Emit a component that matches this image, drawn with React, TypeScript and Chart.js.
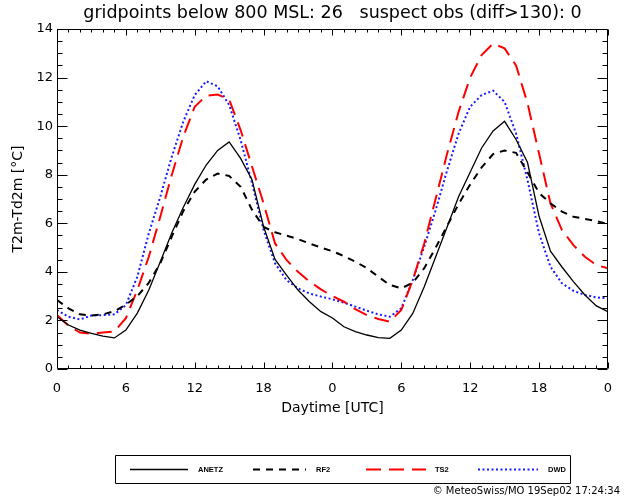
import React, { useEffect, useRef } from 'react';
import { Chart, registerables } from 'chart.js';

Chart.register(...registerables);

const HOURS = [
  0, 1, 2, 3, 4, 5, 6, 7, 8, 9, 10, 11, 12, 13, 14, 15, 16, 17, 18, 19, 20, 21, 22, 23, 24,
  25, 26, 27, 28, 29, 30, 31, 32, 33, 34, 35, 36, 37, 38, 39, 40, 41, 42, 43, 44, 45, 46, 47, 48,
];

const ANETZ = [
  2.15, 1.81, 1.6, 1.47, 1.35, 1.28, 1.6, 2.3, 3.25, 4.42, 5.6, 6.65, 7.6, 8.4, 9.0, 9.35, 8.67, 7.78, 5.86, 4.51, 3.87, 3.25, 2.77, 2.36, 2.1,
  1.74, 1.54, 1.4, 1.29, 1.26, 1.6, 2.29, 3.39, 4.62, 5.86, 7.1, 8.1, 9.1, 9.8, 10.2, 9.45, 8.5, 6.3, 4.85, 4.2, 3.6, 3.05, 2.6, 2.36,
];

const RF2 = [
  2.84, 2.5, 2.25, 2.2, 2.25, 2.38, 2.65, 3.0, 3.55, 4.35, 5.45, 6.5, 7.3, 7.8, 8.05, 7.95, 7.5, 6.55, 5.85, 5.63, 5.49, 5.35, 5.17, 5.0, 4.85,
  4.65, 4.42, 4.15, 3.8, 3.46, 3.32, 3.55, 4.15, 5.0, 5.9, 6.8, 7.6, 8.3, 8.85, 9.0, 8.9, 8.1, 7.25, 6.82, 6.48, 6.27, 6.18, 6.09, 5.97,
];

const TS2 = [
  2.22, 1.78, 1.5, 1.45, 1.5, 1.55, 2.09, 3.25, 4.62, 6.27, 7.99, 9.56, 10.8, 11.25, 11.3, 11.1, 9.84, 8.33, 6.82, 5.17, 4.49, 4.0, 3.6, 3.28, 3.0,
  2.77, 2.46, 2.22, 2.06, 1.95, 2.43, 3.66, 5.17, 7.02, 8.88, 10.6, 12.0, 12.93, 13.4, 13.2, 12.5, 10.94, 8.88, 6.82, 5.72, 5.1, 4.62, 4.28, 4.15,
];

const DWD = [
  2.43, 2.15, 2.04, 2.2, 2.22, 2.25, 2.63, 3.8, 5.59, 7.09, 8.74, 10.18, 11.28, 11.85, 11.64, 10.87, 9.43, 7.64, 5.72, 4.35, 3.66, 3.32, 3.11, 2.98, 2.87,
  2.73, 2.57, 2.4, 2.25, 2.15, 2.5, 3.66, 5.04, 6.55, 8.19, 9.7, 10.8, 11.28, 11.46, 11.0, 9.7, 7.78, 5.59, 4.21, 3.53, 3.22, 3.05, 2.95, 2.91,
];

const SERIES_NAMES = ['ANETZ', 'RF2', 'TS2', 'DWD'];
const X_TICK_LABELS = ['0', '6', '12', '18', '0', '6', '12', '18', '0'];
const TITLE = 'gridpoints below 800 MSL: 26   suspect obs (diff>130): 0';
const X_TITLE = 'Daytime [UTC]';
const Y_TITLE = 'T2m-Td2m [°C]';
const FOOTER = '\u00A9 MeteoSwiss/MO 19Sep02 17:24:34';

const FONT = '"DejaVu Sans", "Liberation Sans", sans-serif';
const LEGEND_FONT = '"Liberation Sans", "DejaVu Sans", sans-serif';

function toPoints(values: number[]) {
  return HOURS.map((h, i) => ({ x: h, y: values[i] }));
}

const decorations = {
  id: 'decorations',
  afterDraw(chart: any) {
    const ctx: CanvasRenderingContext2D = chart.ctx;
    const { left, right, top, bottom } = chart.chartArea;
    const xs = chart.scales.x;
    const ys = chart.scales.y;
    const L = Math.round(left) + 0.5;
    const R = Math.round(right) - 0.5;
    const T = Math.round(top) + 0.5;
    const B = Math.round(bottom) - 0.5;
    ctx.save();
    ctx.strokeStyle = '#000';
    ctx.lineWidth = 1;
    ctx.setLineDash([]);
    ctx.beginPath();
    ctx.rect(L, T, R - L, B - T);
    ctx.stroke();

    // inward ticks on x (hourly minor, 6-hourly major)
    ctx.beginPath();
    for (let h = xs.min; h <= xs.max; h += 1) {
      const px = Math.round(xs.getPixelForValue(h)) + 0.5;
      const len = h % 6 === 0 ? 6 : 3;
      ctx.moveTo(px, B);
      ctx.lineTo(px, B - len);
      ctx.moveTo(px, T);
      ctx.lineTo(px, T + len);
    }
    // inward ticks on y (0.5 minor, 2 major)
    for (let v = ys.min; v <= ys.max + 1e-9; v += 0.5) {
      const py = Math.round(ys.getPixelForValue(v)) + 0.5;
      const len = Math.abs(v % 2) < 1e-9 ? 10 : 5;
      ctx.moveTo(L, py);
      ctx.lineTo(L + len, py);
      ctx.moveTo(R, py);
      ctx.lineTo(R - len, py);
    }
    ctx.stroke();

    // title
    ctx.fillStyle = '#000';
    ctx.font = `17.5px ${FONT}`;
    ctx.textAlign = 'center';
    ctx.textBaseline = 'middle';
    ctx.fillText(TITLE, (left + right) / 2, 13);

    // legend box
    const boxL = 115.5, boxR = 570.5, boxT = 455.5, boxB = 483.5;
    ctx.beginPath();
    ctx.rect(boxL, boxT, boxR - boxL, boxB - boxT);
    ctx.stroke();
    const slots = [
      { x0: 130, x1: 188, tx: 198 },
      { x0: 253, x1: 306, tx: 316 },
      { x0: 366, x1: 426, tx: 435 },
      { x0: 478, x1: 538, tx: 548 },
    ];
    const ly = 469;
    chart.data.datasets.forEach((ds: any, i: number) => {
      const s = slots[i];
      ctx.save();
      ctx.strokeStyle = ds.borderColor;
      ctx.lineWidth = ds.borderWidth;
      ctx.setLineDash(ds.borderDash || []);
      ctx.beginPath();
      ctx.moveTo(s.x0, ly + 0.5);
      ctx.lineTo(s.x1, ly + 0.5);
      ctx.stroke();
      ctx.restore();
      ctx.fillStyle = '#000';
      ctx.font = `bold 7.5px ${LEGEND_FONT}`;
      ctx.textAlign = 'left';
      ctx.textBaseline = 'middle';
      ctx.fillText(ds.label, s.tx, ly + 1);
    });

    // footer
    ctx.font = `10px ${FONT}`;
    ctx.textAlign = 'right';
    ctx.textBaseline = 'middle';
    ctx.fillText(FOOTER, 620, 491);
    ctx.restore();
  },
};

export default function App() {
  const ref = useRef<HTMLCanvasElement | null>(null);

  useEffect(() => {
    document.body.style.margin = '0';
    const canvas = ref.current;
    if (!canvas) return;
    const chart = new Chart(canvas, {
      type: 'line',
      data: {
        datasets: [
          {
            label: SERIES_NAMES[0],
            data: toPoints(ANETZ),
            borderColor: '#000000',
            borderWidth: 1.3,
            borderDash: [],
            pointRadius: 0,
            tension: 0,
          },
          {
            label: SERIES_NAMES[1],
            data: toPoints(RF2),
            borderColor: '#000000',
            borderWidth: 2,
            borderDash: [7, 6],
            pointRadius: 0,
            tension: 0,
          },
          {
            label: SERIES_NAMES[2],
            data: toPoints(TS2),
            borderColor: '#ff0000',
            borderWidth: 2,
            borderDash: [15, 8],
            pointRadius: 0,
            tension: 0,
          },
          {
            label: SERIES_NAMES[3],
            data: toPoints(DWD),
            borderColor: '#1a1aff',
            borderWidth: 2,
            borderDash: [2, 2.5],
            pointRadius: 0,
            tension: 0,
          },
        ],
      },
      options: {
        responsive: false,
        animation: false,
        events: [],
        layout: { padding: { left: 0, right: 9, top: 29, bottom: 77 } },
        plugins: {
          legend: { display: false },
          title: { display: false },
          tooltip: { enabled: false },
        },
        scales: {
          x: {
            type: 'linear',
            min: 0,
            max: 48,
            grid: { display: false, drawTicks: false },
            border: { display: false },
            ticks: {
              stepSize: 6,
              padding: 12,
              color: '#000',
              font: { family: FONT, size: 13 },
              maxRotation: 0,
              callback: (_v: any, i: number) => X_TICK_LABELS[i],
            },
            title: {
              display: true,
              text: X_TITLE,
              color: '#000',
              font: { family: FONT, size: 14 },
              padding: { top: 0, bottom: 2 },
            },
            afterFit: (s: any) => {
              s.height = 50;
            },
          },
          y: {
            type: 'linear',
            min: 0,
            max: 14,
            grid: { display: false, drawTicks: false },
            border: { display: false },
            ticks: {
              stepSize: 2,
              padding: 4,
              color: '#000',
              font: { family: FONT, size: 13 },
            },
            title: {
              display: true,
              text: Y_TITLE,
              color: '#000',
              font: { family: FONT, size: 14 },
              padding: { top: 10, bottom: 0 },
            },
            afterFit: (s: any) => {
              s.width = 57;
            },
          },
        },
      },
      plugins: [decorations],
    } as any);
    return () => chart.destroy();
  }, []);

  return (
    <div style={{ position: 'absolute', left: 0, top: 0, width: 624, height: 496 }}>
      <canvas ref={ref} width={624} height={496} style={{ display: 'block' }} />
    </div>
  );
}
